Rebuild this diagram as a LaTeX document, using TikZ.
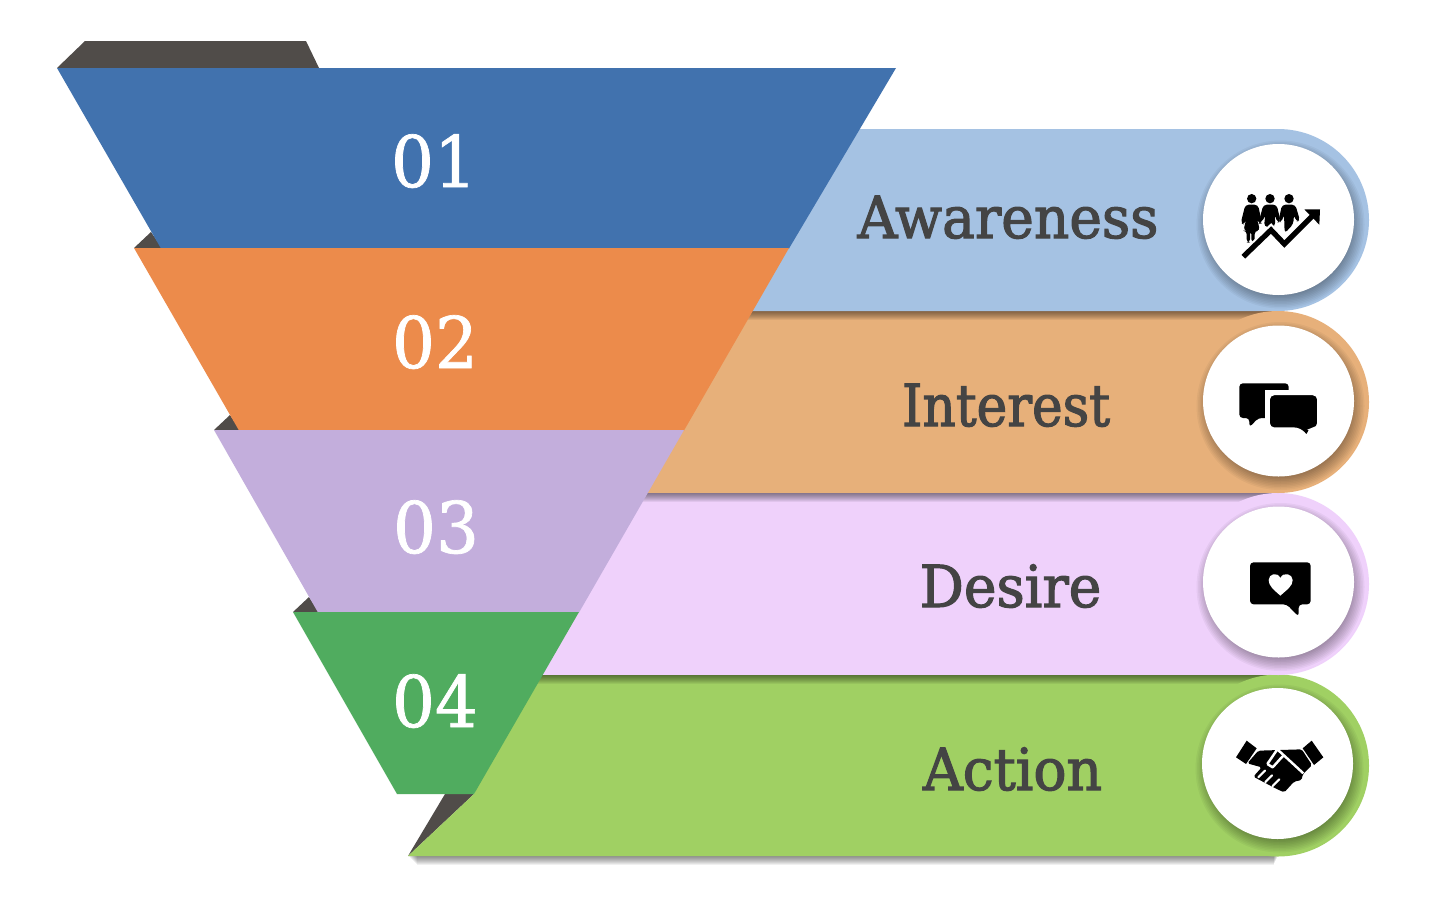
\documentclass[tikz,border=0pt]{standalone}
\usepackage{fontspec}
\newfontfamily\slabtxt[FakeStretch=0.95,FakeBold=2]{DejaVu Serif}
\newfontfamily\slabnum[FakeStretch=0.95,FakeBold=1]{DejaVu Serif}
\definecolor{cdark}{HTML}{504C49}
\definecolor{cblue}{HTML}{4172AE}
\definecolor{corange}{HTML}{EC8B4B}
\definecolor{cpurple}{HTML}{C3AEDC}
\definecolor{cgreen}{HTML}{50AC5F}
\definecolor{lblue}{HTML}{A5C2E3}
\definecolor{lorange}{HTML}{E7B07A}
\definecolor{lpink}{HTML}{EFD1FB}
\definecolor{lgreen}{HTML}{A0D063}
\definecolor{ctext}{HTML}{444444}
\tikzset{
  numlabel/.style={text=white,inner sep=0pt,anchor=base,font=\slabnum\fontsize{40.5}{40.5}\selectfont},
  barlabel/.style={text=ctext,inner sep=0pt,anchor=base,font=\slabtxt\fontsize{33}{33}\selectfont},
  iconscope/.style={x=0.006667cm,y=-0.006667cm},
  iconblack/.style={fill=black,draw=none},
  person/.style={fill=black,draw=none},
}
\newcommand{\barshadow}[2]{% left x, bottom y
  \foreach \d in {1,...,9}{\fill[black,opacity=0.06] (#1+\d,#2) rectangle (1278-\d*0.5,#2+\d);}
}
\newcommand{\discshadow}[2]{%
  \foreach \r in {66,67.5,...,84}{\fill[black,opacity=0.04] (#1+2,#2+5) circle (\r);}
}
\begin{document}
\begin{tikzpicture}[x=0.02cm,y=-0.02cm]
\useasboundingbox (0,0) rectangle (1452,906);
\fill[white] (0,0) rectangle (1452,906);
% dark back pieces
\fill[cdark] (57,68) -- (85,41) -- (306,41) -- (319,68) -- cycle;
\fill[cdark] (134,248) -- (151,232) -- (162,248) -- cycle;
\fill[cdark] (214,430) -- (230,415) -- (240,430) -- cycle;
\fill[cdark] (293,612) -- (309,597) -- (319,612) -- cycle;
\fill[cdark] (408,856) -- (445,794) -- (474,794) -- cycle;
% bars, bottom to top
\barshadow{408}{856}
\fill[lgreen] (408,856) -- (474,794) -- (520,675) -- (1278,675) -- (1278,856) -- cycle;
\barshadow{520}{675}
\fill[lpink] (520,675) -- (520,493) -- (1278,493) -- (1278,675) -- cycle;
\barshadow{620}{493}
\fill[lorange] (620,493) -- (620,311) -- (1278,311) -- (1278,493) -- cycle;
\barshadow{730}{311}
\fill[lblue] (730,311) -- (850,129) -- (1278,129) -- (1278,311) -- cycle;
% round ends
\fill[lgreen] (1278,765.5) circle (91);
\fill[lpink] (1278,584) circle (91);
\fill[lorange] (1278,402) circle (91);
\fill[lblue] (1278,220) circle (91);
% funnel
\fill[cblue] (57,68) -- (896,68) -- (789,248.5) -- (161,248.5) -- cycle;
\fill[corange] (134,248) -- (789,248) -- (684,430.5) -- (239,430.5) -- cycle;
\fill[cpurple] (214,430) -- (684,430) -- (579,612.5) -- (318,612.5) -- cycle;
\fill[cgreen] (293,612) -- (579,612) -- (474,794) -- (397,794) -- cycle;
% numbers
\node[numlabel] (n1) at (434,187) {01};
\node[numlabel] (n2) at (435,368) {02};
\node[numlabel] (n3) at (436,553) {03};
\node[numlabel] (n4) at (435,727) {04};
% bar labels
\node[barlabel] (t1) at (1008,238) {Awareness};
\node[barlabel,xscale=0.94,transform shape] (t2) at (1006,426) {Interest};
\node[barlabel] (t3) at (1010.5,607) {Desire};
\node[barlabel] (t4) at (1012.5,790) {Action};
% white discs
\discshadow{1278.5}{219.5}
\fill[white] (1278.5,219.5) circle (75.5);
\discshadow{1278.5}{401}
\fill[white] (1278.5,401) circle (75.5);
\discshadow{1278.5}{582}
\fill[white] (1278.5,582) circle (75.5);
\discshadow{1277.5}{763.5}
\fill[white] (1277.5,763.5) circle (75.5);
% icon 1: people and rising arrow
\begin{scope}[shift={(1190,120)},iconscope]
  \fill[person] (185,236) circle (14);
  \fill[person] (240,236) circle (14);
  \fill[person] (297,236) circle (14);
  \fill[person,rounded corners=2pt] (166,254) -- (204,254) -- (216,310) -- (206,312) -- (198,285) -- (210,332) -- (194,332) -- (194,368) -- (184,368) -- (184,332) -- (180,332) -- (180,368) -- (170,368) -- (170,332) -- (160,332) -- (172,285) -- (164,314) -- (152,310) -- cycle;
  \fill[person,rounded corners=2pt] (220,254) -- (260,254) -- (272,305) -- (262,308) -- (254,283) -- (256,318) -- (244,322) -- (222,320) -- (226,283) -- (216,308) -- (208,300) -- cycle;
  \fill[person,rounded corners=2pt] (276,254) -- (316,254) -- (330,302) -- (318,305) -- (312,283) -- (310,312) -- (284,340) -- (282,283) -- (274,308) -- (266,300) -- cycle;
  \draw[white,line width=5.5pt] (175,396) -- (243,330) -- (283,372) -- (345,310);
  \draw[black,line width=3pt] (160,410) -- (243,330) -- (283,372) -- (372,283);
  \fill[iconblack] (343,268) -- (390,268) -- (388,314) -- cycle;
\end{scope}
% icon 2: two speech bubbles
\begin{scope}[shift={(1190,310)},iconscope]
  \fill[iconblack,rounded corners=2pt] (148,220) -- (296,220) -- (296,300) -- (296,324) -- (205,324) -- (178,352) -- (178,324) -- (148,324) -- cycle;
  \fill[white] (226,241) rectangle (300,330);
  \draw[white,line width=1.4pt,fill=black,rounded corners=3pt] (236,252) -- (385,252) -- (385,356) -- (355,356) -- (355,384) -- (328,356) -- (236,356) -- cycle;
\end{scope}
% icon 3: bubble with heart
\begin{scope}[shift={(1190,500)},iconscope]
  \fill[iconblack,rounded corners=2pt] (180,187) -- (362,187) -- (362,313) -- (326,313) -- (326,350) -- (290,313) -- (180,313) -- cycle;
  \fill[white] (271,287) .. controls (250,268) and (236,258) .. (236,240) .. controls (236,222) and (262,214) .. (271,234) .. controls (280,214) and (308,222) .. (308,240) .. controls (308,258) and (292,268) .. (271,287) -- cycle;
\end{scope}
% icon 4: handshake
\begin{scope}[shift={(1190,680)},iconscope]
  \fill[iconblack] (170,182) -- (200,205) -- (168,252) -- (138,232) -- cycle;
  \fill[iconblack] (365,182) -- (400,232) -- (372,255) -- (338,205) -- cycle;
  \fill[iconblack,rounded corners=1pt] (205,212) -- (335,208) -- (366,255) -- (338,283) -- (335,300) -- (312,305) -- (283,337) -- (262,328) -- (190,290) -- (215,262) -- (172,250) -- cycle;
  \draw[white,line width=1.4pt,line join=round] (232,252) -- (262,208) -- (340,280);
  \draw[white,line width=1.4pt,line join=round] (232,252) -- (248,262) -- (275,232) -- (282,226);
  \draw[white,line width=1.2pt,line cap=round] (205,292) -- (225,272);
  \draw[white,line width=1.2pt,line cap=round] (226,306) -- (246,286);
  \draw[white,line width=1.2pt,line cap=round] (248,318) -- (268,298);
\end{scope}
\end{tikzpicture}
\end{document}
